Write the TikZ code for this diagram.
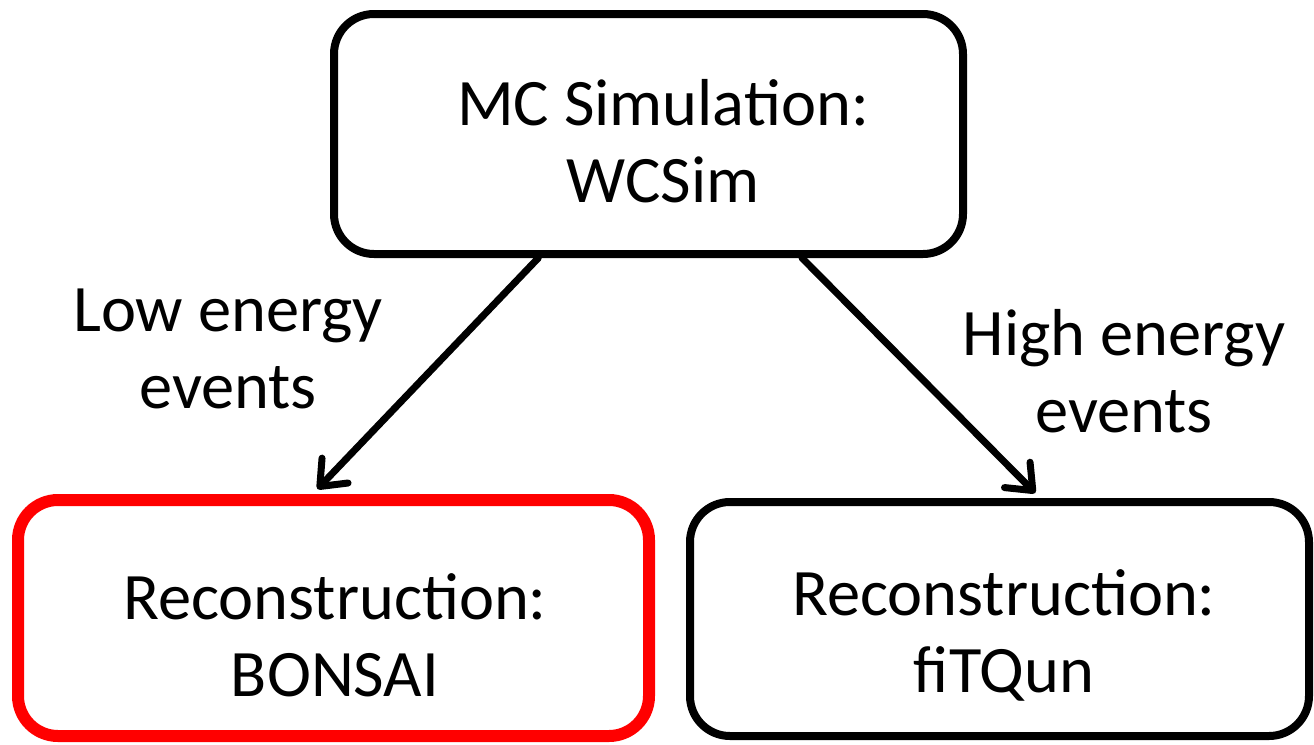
\documentclass[tikz,border=0pt]{standalone}
\usepackage{fontspec}
\setmainfont{Carlito}
\usetikzlibrary{arrows.meta,calc}
\begin{document}
\begin{tikzpicture}[x=0.5pt,y=-0.5pt,
  box/.style={draw=black,line width=4pt,rounded corners=20pt,fill=white,inner sep=0pt},
  redbox/.style={box,draw=red,line width=6pt},
  txt/.style={align=center,font=\fontsize{33.2}{38.5}\selectfont,inner sep=0pt},
  flow/.style={line width=3.5pt,line cap=round,-{Straight Barb[length=11pt,width=18pt,line cap=round,line join=round]}}]
\useasboundingbox (0,0) rectangle (1314,745);
% boxes
\node[box,minimum width=314.5pt,minimum height=120pt] (sim) at (648.5,134) {};
\node[redbox,minimum width=315.5pt,minimum height=118pt] (bonsai) at (333.5,618) {};
\node[box,minimum width=309.5pt,minimum height=117pt] (fitqun) at (999.5,619) {};
% box texts
\node[txt] (simtxt) at (663,141) {MC Simulation:\\WCSim};
\node[txt] (bonsaitxt) at (335,635) {Reconstruction:\\BONSAI};
\node[txt] (fitquntxt) at (1004,635) {Reconstruction:\\fiTQun};
% branch labels
\node[txt] (low) at (228,349) {Low energy\\events};
\node[txt] (high) at (1124,371) {High energy\\events};
% connectors
\coordinate (s1) at ($(sim.south west)!0.327!(sim.south east)$);
\coordinate (s2) at ($(sim.south west)!0.741!(sim.south east)$);
\coordinate (t1) at ($(bonsai.north west)!0.475!(bonsai.north east)+(0,-5)$);
\coordinate (t2) at ($(fitqun.north west)!0.557!(fitqun.north east)+(0,-5)$);
\draw[flow] (s1) -- (t1);
\draw[flow] (s2) -- (t2);
\end{tikzpicture}
\end{document}
